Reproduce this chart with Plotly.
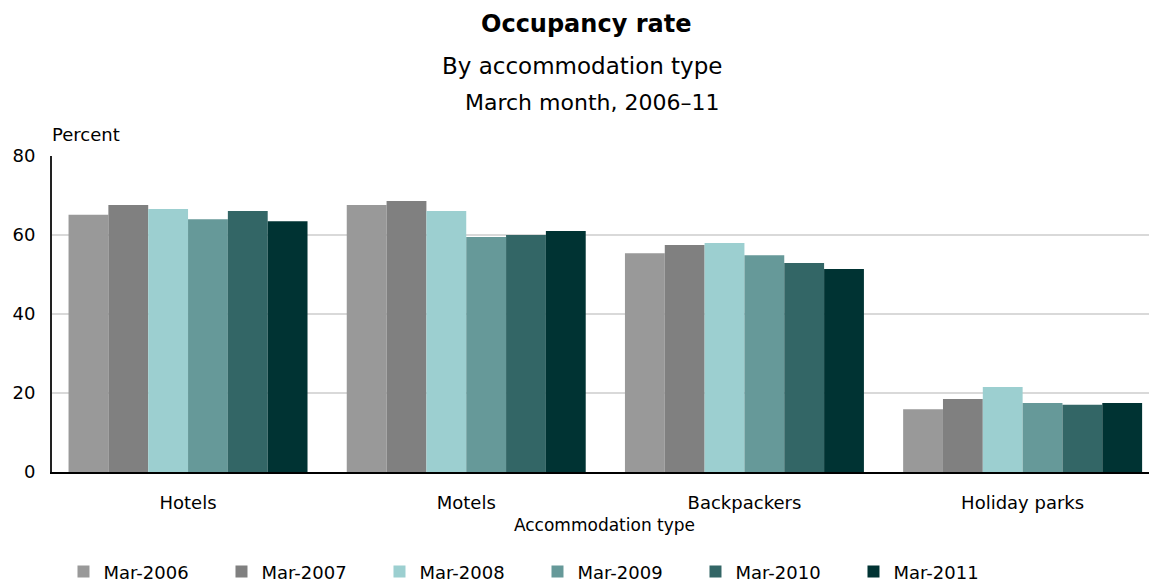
import plotly.graph_objects as go

categories = ["Hotels", "Motels", "Backpackers", "Holiday parks"]
series_names = ["Mar-2006", "Mar-2007", "Mar-2008", "Mar-2009", "Mar-2010", "Mar-2011"]
mar2006 = [65.1, 67.6, 55.4, 15.9]
mar2007 = [67.6, 68.6, 57.5, 18.5]
mar2008 = [66.6, 66.1, 58.0, 21.5]
mar2009 = [64.0, 59.5, 54.9, 17.5]
mar2010 = [66.1, 60.0, 52.9, 17.0]
mar2011 = [63.5, 61.0, 51.4, 17.5]
colors = ["#999999", "#808080", "#9ccfd0", "#669999", "#336666", "#003333"]

series = [mar2006, mar2007, mar2008, mar2009, mar2010, mar2011]

FONT = "DejaVu Sans, Verdana, sans-serif"

fig = go.Figure()
for name, vals, col in zip(series_names, series, colors):
    fig.add_trace(go.Bar(
        x=categories, y=vals, name=name,
        marker=dict(color=col, line=dict(width=0)),
    ))

# page body has an 8px margin, so the layout is shifted up/left by 8px
fig.update_layout(
    width=1157, height=581,
    margin=dict(l=44, r=8, t=148, b=117, autoexpand=False),
    paper_bgcolor="white", plot_bgcolor="white",
    barmode="group", bargap=0.141, bargroupgap=0,
    font=dict(family=FONT, color="black"),
    showlegend=True,
    legend=dict(
        orientation="h", x=0.0104, xanchor="left", y=-0.316, yanchor="middle",
        font=dict(size=18, family=FONT), entrywidth=113, entrywidthmode="pixels",
        itemwidth=30, traceorder="normal",
    ),
    xaxis=dict(
        range=[-0.489, 3.483], automargin=False,
        showline=True, linecolor="black", linewidth=2,
        ticks="", tickfont=dict(size=18, family=FONT), ticklabelstandoff=13,
        title=dict(text="Accommodation type", font=dict(size=17, family=FONT), standoff=8),
    ),
    yaxis=dict(
        range=[0, 80], dtick=20, automargin=False,
        showline=True, linecolor="#222222", linewidth=2,
        showgrid=True, gridcolor="#d9d9d9", gridwidth=1.5,
        ticks="", tickfont=dict(size=18, family=FONT), ticklabelstandoff=11,
        zeroline=False,
    ),
    annotations=[
        dict(text="<b>Occupancy rate</b>", xref="paper", yref="paper", x=0.483, y=1.0,
             yanchor="middle", yshift=132, showarrow=False, font=dict(size=24, family=FONT)),
        dict(text="By accommodation type", xref="paper", yref="paper", x=0.480, y=1.0,
             yanchor="middle", yshift=90, showarrow=False, font=dict(size=23, family=FONT)),
        dict(text="March month, 2006\u201311", xref="paper", yref="paper", x=0.489, y=1.0,
             yanchor="middle", yshift=54, showarrow=False, font=dict(size=22, family=FONT)),
        dict(text="Percent", xref="paper", yref="paper", x=0.0, y=1.0, xanchor="left",
             yanchor="middle", xshift=-2, yshift=22, showarrow=False,
             font=dict(size=18, family=FONT)),
    ],
)

fig.write_html("out.html")
